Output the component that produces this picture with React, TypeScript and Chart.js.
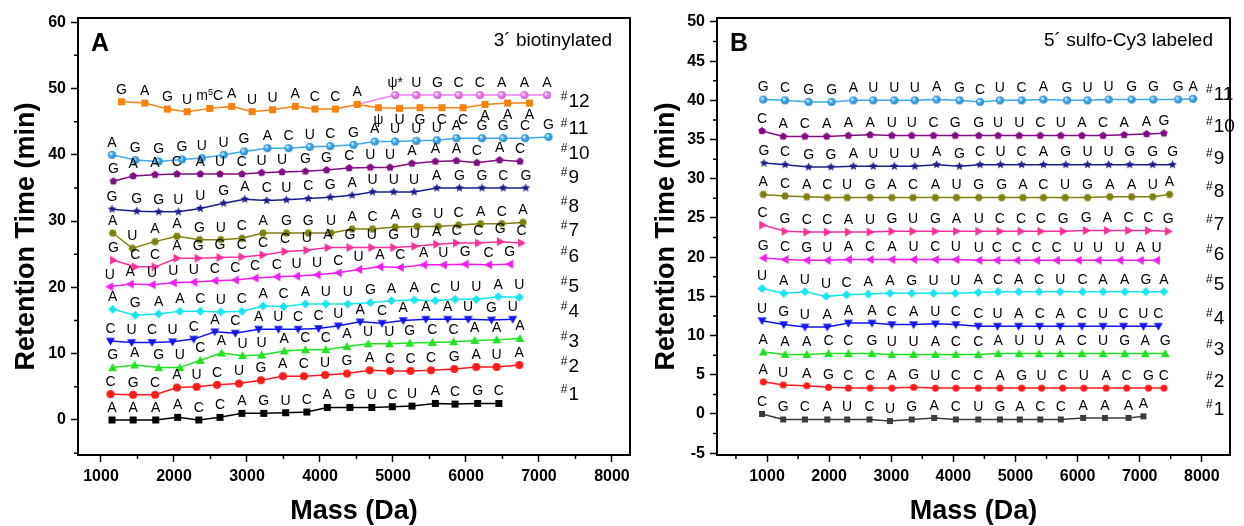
import React, { useEffect, useRef } from 'react';
import { Chart, registerables } from 'chart.js';
Chart.register(...registerables);

const FONT = '"Liberation Sans", Arial, Helvetica, sans-serif';

// ---------- Panel A (3' biotinylated) ----------
const xTicksA = [1000, 2000, 3000, 4000, 5000, 6000, 7000, 8000];
const yTicksA = [0, 10, 20, 30, 40, 50, 60];

const massA1 = [1150, 1440, 1750, 2050, 2340, 2630, 2930, 3230, 3530, 3820, 4100, 4410, 4710, 4990, 5260, 5580, 5850, 6160, 6450];
const rtA1 = [0.0, 0.0, 0.0, 0.4, 0.0, 0.4, 1.0, 1.0, 1.1, 1.2, 1.9, 1.9, 1.9, 2.0, 2.1, 2.5, 2.4, 2.5, 2.5];
const seqA1 = ['A', 'A', 'A', 'A', 'C', 'C', 'A', 'G', 'U', 'C', 'A', 'G', 'U', 'C', 'U', 'A', 'C', 'G', 'C'];

const massA2 = [1130, 1440, 1740, 2040, 2310, 2590, 2890, 3190, 3490, 3780, 4070, 4370, 4680, 4960, 5240, 5520, 5840, 6140, 6420, 6730];
const rtA2 = [3.9, 3.8, 3.8, 4.9, 5.0, 5.3, 5.5, 6.0, 6.6, 6.6, 6.8, 7.0, 7.5, 7.4, 7.4, 7.5, 7.7, 8.0, 8.0, 8.3];
const seqA2 = ['C', 'G', 'C', 'A', 'U', 'C', 'U', 'G', 'A', 'C', 'U', 'G', 'A', 'C', 'C', 'C', 'G', 'A', 'U', 'A'];

const massA3 = [1160, 1460, 1790, 2080, 2360, 2650, 2940, 3200, 3510, 3800, 4080, 4370, 4660, 4950, 5230, 5540, 5830, 6120, 6420, 6740];
const rtA3 = [7.9, 8.3, 7.9, 7.9, 9.0, 10.1, 9.7, 9.8, 10.4, 10.6, 10.6, 11.1, 11.5, 11.5, 11.6, 11.7, 11.8, 12.0, 12.1, 12.3];
const seqA3 = ['G', 'A', 'G', 'U', 'C', 'A', 'U', 'U', 'A', 'C', 'C', 'A', 'U', 'U', 'G', 'C', 'C', 'A', 'A', 'A'];

const massA4 = [1130, 1420, 1700, 1980, 2270, 2560, 2840, 3160, 3430, 3700, 3980, 4250, 4550, 4850, 5140, 5450, 5750, 6030, 6350, 6640];
const rtA4 = [11.9, 11.7, 11.7, 11.8, 12.2, 13.3, 13.1, 13.7, 13.7, 13.7, 13.8, 14.2, 14.8, 14.6, 15.0, 15.2, 15.2, 15.2, 15.1, 15.2];
const seqA4 = ['C', 'U', 'C', 'U', 'C', 'A', 'C', 'A', 'U', 'C', 'C', 'U', 'A', 'C', 'A', 'A', 'A', 'U', 'G', 'U'];

const massA5 = [1160, 1470, 1790, 2080, 2360, 2640, 2930, 3220, 3500, 3800, 4080, 4380, 4690, 4980, 5290, 5580, 5850, 6140, 6440, 6730];
const rtA5 = [16.7, 15.8, 16.0, 16.4, 16.4, 16.3, 16.4, 17.2, 17.1, 17.5, 17.5, 17.5, 17.7, 18.0, 18.1, 18.0, 18.2, 18.2, 18.6, 18.5];
const seqA5 = ['A', 'G', 'A', 'A', 'C', 'U', 'C', 'A', 'C', 'A', 'U', 'U', 'G', 'A', 'A', 'C', 'U', 'U', 'A', 'U'];

const massA6 = [1120, 1400, 1700, 1990, 2270, 2560, 2840, 3110, 3410, 3680, 3960, 4250, 4530, 4820, 5100, 5420, 5690, 5990, 6310, 6600];
const rtA6 = [20.1, 20.5, 20.4, 20.7, 20.8, 21.0, 21.1, 21.4, 21.6, 21.7, 21.9, 22.2, 22.7, 23.1, 23.0, 23.4, 23.4, 23.5, 23.4, 23.5];
const seqA6 = ['U', 'A', 'U', 'U', 'U', 'C', 'C', 'C', 'C', 'U', 'U', 'C', 'U', 'A', 'C', 'A', 'U', 'G', 'C', 'G'];

const massA7 = [1170, 1470, 1740, 2040, 2330, 2630, 2930, 3220, 3520, 3820, 4110, 4410, 4710, 5010, 5300, 5600, 5870, 6170, 6470, 6760];
const rtA7 = [24.1, 23.1, 23.1, 24.4, 24.4, 24.5, 24.6, 24.9, 25.4, 25.6, 26.0, 26.0, 26.0, 26.0, 26.2, 26.5, 26.7, 26.7, 26.9, 26.7];
const seqA7 = ['G', 'C', 'C', 'A', 'G', 'G', 'C', 'C', 'C', 'U', 'A', 'G', 'U', 'G', 'U', 'A', 'C', 'C', 'G', 'C'];

const massA8 = [1160, 1430, 1740, 2040, 2350, 2640, 2930, 3220, 3540, 3840, 4150, 4440, 4720, 5030, 5330, 5620, 5900, 6200, 6490, 6780];
const rtA8 = [28.2, 25.9, 26.9, 27.7, 27.2, 27.2, 27.4, 28.2, 28.2, 28.2, 28.2, 28.8, 28.8, 29.1, 29.2, 29.2, 29.4, 29.6, 29.6, 29.8];
const seqA8 = ['A', 'U', 'A', 'A', 'G', 'U', 'C', 'A', 'G', 'G', 'U', 'A', 'C', 'A', 'G', 'U', 'C', 'A', 'C', 'A'];

const massA9 = [1150, 1490, 1790, 2060, 2360, 2680, 2970, 3270, 3540, 3840, 4140, 4440, 4720, 5010, 5290, 5600, 5910, 6220, 6510, 6820];
const rtA9 = [31.8, 31.5, 31.4, 31.4, 31.9, 32.7, 33.3, 33.1, 33.2, 33.4, 33.6, 33.9, 34.4, 34.4, 34.4, 35.0, 35.0, 35.0, 35.0, 35.0];
const seqA9 = ['G', 'G', 'G', 'U', 'U', 'G', 'A', 'C', 'U', 'C', 'G', 'A', 'U', 'U', 'U', 'A', 'G', 'G', 'C', 'G'];

const massA10 = [1170, 1440, 1740, 2040, 2360, 2630, 2930, 3200, 3480, 3800, 4090, 4400, 4690, 4960, 5260, 5580, 5870, 6150, 6460, 6740];
const rtA10 = [36.0, 36.8, 37.0, 37.1, 37.1, 37.1, 37.1, 37.3, 37.4, 37.5, 37.7, 38.0, 38.1, 38.1, 38.7, 39.0, 39.1, 38.8, 39.2, 39.0];
const seqA10 = ['G', 'A', 'A', 'C', 'A', 'U', 'C', 'U', 'U', 'G', 'G', 'C', 'U', 'U', 'A', 'A', 'A', 'C', 'A', 'C'];

const massA11 = [1150, 1470, 1790, 2110, 2380, 2680, 2960, 3280, 3570, 3860, 4140, 4460, 4750, 5030, 5320, 5600, 5870, 6220, 6510, 6810, 7130];
const rtA11 = [40.0, 39.2, 39.0, 39.3, 39.5, 40.0, 40.5, 41.0, 41.0, 41.2, 41.3, 41.5, 42.0, 42.0, 42.1, 42.2, 42.5, 42.5, 42.5, 42.5, 42.7];
const seqA11 = ['A', 'G', 'G', 'G', 'U', 'U', 'G', 'A', 'C', 'U', 'C', 'G', 'A', 'U', 'U', 'U', 'A', 'G', 'G', 'C', 'G'];

const massA12 = [1280, 1600, 1910, 2180, 2490, 2790, 3070, 3350, 3660, 3930, 4210, 4510, 4800, 5090, 5370, 5670, 5960, 6260, 6570, 6870];
const rtA12 = [48.0, 47.8, 46.9, 46.5, 47.0, 47.3, 46.5, 46.8, 47.3, 46.9, 46.9, 47.6, 47.1, 47.0, 47.1, 47.1, 47.1, 47.6, 47.8, 47.8];
const seqA12 = ['G', 'A', 'G', 'U', 'm⁵C', 'A', 'U', 'U', 'A', 'C', 'C', 'A', 'ψ', 'U', 'G', 'C', 'C', 'A', 'A', 'A'];

const massA12b = [4510, 5030, 5320, 5610, 5900, 6190, 6490, 6800, 7110];
const rtA12b = [47.6, 49.0, 49.0, 49.0, 49.0, 49.0, 49.0, 49.0, 49.0];
const seqA12b = ['', 'ψ*', 'U', 'G', 'C', 'C', 'A', 'A', 'A'];

const rowNamesA = ['1', '2', '3', '4', '5', '6', '7', '8', '9', '10', '11', '12'];
const rowYA = [3.8, 8.0, 11.8, 16.3, 20.1, 24.6, 28.5, 32.1, 36.6, 40.1, 43.9, 48.0];

// ---------- Panel B (5' sulfo-Cy3 labeled) ----------
const xTicksB = [1000, 2000, 3000, 4000, 5000, 6000, 7000, 8000];
const yTicksB = [-5, 0, 5, 10, 15, 20, 25, 30, 35, 40, 45, 50];

const massB1 = [920, 1260, 1610, 1970, 2290, 2650, 2980, 3330, 3690, 4040, 4400, 4750, 5070, 5400, 5730, 6090, 6440, 6820, 7060];
const rtB1 = [0.0, -0.7, -0.7, -0.7, -0.7, -0.7, -0.9, -0.7, -0.5, -0.7, -0.7, -0.7, -0.7, -0.7, -0.7, -0.5, -0.5, -0.5, -0.3];
const seqB1 = ['C', 'G', 'C', 'A', 'U', 'C', 'U', 'G', 'A', 'C', 'U', 'G', 'A', 'C', 'C', 'A', 'A', 'A', 'A'];

const massB2 = [940, 1260, 1640, 1990, 2310, 2660, 3010, 3360, 3710, 4040, 4400, 4750, 5100, 5420, 5760, 6100, 6460, 6790, 7140, 7390];
const rtB2 = [4.1, 3.7, 3.6, 3.4, 3.3, 3.3, 3.3, 3.4, 3.3, 3.3, 3.3, 3.3, 3.3, 3.3, 3.3, 3.3, 3.3, 3.3, 3.3, 3.3];
const seqB2 = ['A', 'U', 'A', 'G', 'C', 'C', 'A', 'G', 'U', 'C', 'C', 'A', 'G', 'U', 'C', 'U', 'A', 'C', 'G', 'C'];

const massB3 = [940, 1290, 1640, 1990, 2310, 2690, 3010, 3360, 3710, 4040, 4400, 4720, 5060, 5380, 5720, 6070, 6410, 6760, 7090, 7410];
const rtB3 = [7.9, 7.6, 7.6, 7.7, 7.7, 7.7, 7.6, 7.6, 7.6, 7.6, 7.6, 7.7, 7.7, 7.7, 7.7, 7.7, 7.7, 7.7, 7.7, 7.7];
const seqB3 = ['A', 'A', 'A', 'C', 'C', 'G', 'U', 'U', 'A', 'C', 'C', 'A', 'U', 'U', 'A', 'C', 'U', 'G', 'A', 'G'];

const massB4 = [920, 1270, 1610, 1970, 2310, 2690, 3010, 3360, 3710, 4040, 4400, 4710, 5050, 5390, 5720, 6070, 6410, 6740, 7060, 7300];
const rtB4 = [11.9, 11.4, 11.1, 11.1, 11.6, 11.6, 11.4, 11.4, 11.5, 11.4, 11.2, 11.2, 11.2, 11.2, 11.2, 11.2, 11.2, 11.2, 11.2, 11.2];
const seqB4 = ['U', 'G', 'U', 'A', 'A', 'A', 'C', 'A', 'U', 'C', 'C', 'U', 'A', 'C', 'A', 'C', 'U', 'C', 'U', 'C'];

const massB5 = [920, 1270, 1610, 1950, 2280, 2630, 2980, 3330, 3680, 4030, 4400, 4720, 5050, 5380, 5720, 6080, 6410, 6760, 7100, 7390];
const rtB5 = [16.0, 15.4, 15.6, 15.0, 15.2, 15.3, 15.4, 15.4, 15.4, 15.4, 15.5, 15.6, 15.6, 15.6, 15.6, 15.6, 15.6, 15.6, 15.6, 15.6];
const seqB5 = ['U', 'A', 'U', 'U', 'C', 'A', 'A', 'G', 'U', 'U', 'A', 'C', 'A', 'C', 'U', 'C', 'A', 'A', 'G', 'A'];

const massB6 = [940, 1290, 1640, 1970, 2310, 2660, 3010, 3360, 3710, 4040, 4410, 4700, 5020, 5340, 5660, 6010, 6330, 6680, 7010, 7270];
const rtB6 = [19.9, 19.7, 19.6, 19.6, 19.7, 19.7, 19.7, 19.7, 19.7, 19.7, 19.6, 19.6, 19.6, 19.6, 19.6, 19.6, 19.6, 19.6, 19.6, 19.6];
const seqB6 = ['G', 'C', 'G', 'U', 'A', 'C', 'A', 'U', 'C', 'U', 'U', 'C', 'C', 'C', 'C', 'U', 'U', 'U', 'A', 'U'];

const massB7 = [930, 1290, 1640, 1970, 2310, 2660, 3010, 3350, 3710, 4050, 4410, 4750, 5090, 5410, 5770, 6140, 6480, 6820, 7140, 7460];
const rtB7 = [24.1, 23.3, 23.2, 23.2, 23.2, 23.2, 23.3, 23.3, 23.3, 23.3, 23.3, 23.3, 23.3, 23.3, 23.3, 23.4, 23.4, 23.4, 23.4, 23.3];
const seqB7 = ['C', 'G', 'C', 'C', 'A', 'U', 'G', 'U', 'G', 'A', 'U', 'C', 'C', 'C', 'G', 'G', 'A', 'C', 'C', 'G'];

const massB8 = [940, 1290, 1640, 1970, 2290, 2660, 3010, 3350, 3710, 4050, 4410, 4780, 5120, 5450, 5800, 6160, 6520, 6870, 7210, 7480];
const rtB8 = [28.0, 27.8, 27.7, 27.6, 27.6, 27.6, 27.6, 27.6, 27.6, 27.6, 27.6, 27.6, 27.6, 27.6, 27.6, 27.6, 27.7, 27.7, 27.7, 28.0];
const seqB8 = ['A', 'C', 'A', 'C', 'U', 'G', 'A', 'C', 'A', 'U', 'G', 'G', 'A', 'C', 'U', 'G', 'A', 'A', 'U', 'A'];

const massB9 = [950, 1290, 1670, 2030, 2390, 2710, 3050, 3380, 3730, 4100, 4430, 4760, 5100, 5450, 5810, 6160, 6500, 6840, 7210, 7530];
const rtB9 = [32.0, 31.8, 31.5, 31.5, 31.6, 31.6, 31.6, 31.6, 31.8, 31.6, 31.8, 31.8, 31.8, 31.8, 31.8, 31.8, 31.8, 31.8, 31.8, 31.8];
const seqB9 = ['G', 'C', 'G', 'G', 'A', 'U', 'U', 'U', 'A', 'G', 'C', 'U', 'C', 'A', 'G', 'U', 'U', 'G', 'G', 'G'];

const massB10 = [920, 1260, 1610, 1960, 2310, 2660, 3010, 3330, 3680, 4030, 4410, 4720, 5060, 5400, 5730, 6070, 6410, 6750, 7110, 7390];
const rtB10 = [36.1, 35.4, 35.4, 35.4, 35.5, 35.6, 35.5, 35.5, 35.5, 35.5, 35.5, 35.5, 35.5, 35.5, 35.5, 35.5, 35.5, 35.6, 35.7, 35.8];
const seqB10 = ['C', 'A', 'C', 'A', 'A', 'A', 'U', 'U', 'C', 'G', 'G', 'U', 'U', 'C', 'U', 'A', 'C', 'A', 'A', 'G'];

const massB11 = [940, 1290, 1670, 2040, 2390, 2710, 3050, 3380, 3730, 4100, 4430, 4750, 5100, 5450, 5830, 6160, 6500, 6870, 7220, 7620, 7860];
const rtB11 = [40.1, 40.0, 39.8, 39.8, 40.0, 40.0, 40.0, 40.0, 40.1, 40.0, 39.8, 40.0, 40.0, 40.1, 40.0, 40.0, 40.1, 40.1, 40.1, 40.1, 40.2];
const seqB11 = ['G', 'C', 'G', 'G', 'A', 'U', 'U', 'U', 'A', 'G', 'C', 'U', 'C', 'A', 'G', 'U', 'U', 'G', 'G', 'G', 'A'];

const rowNamesB = ['1', '2', '3', '4', '5', '6', '7', '8', '9', '10', '11'];
const rowYB = [0.5, 4.1, 8.2, 12.2, 16.5, 20.3, 24.1, 28.4, 32.6, 36.6, 40.7];

// ---------- drawing helpers ----------
function shade(hex: string, f: number) {
  const n = parseInt(hex.slice(1), 16);
  const r = Math.round(((n >> 16) & 255) * f), g = Math.round(((n >> 8) & 255) * f), b = Math.round((n & 255) * f);
  return `rgb(${r},${g},${b})`;
}

function marker(shape: string, color: string, size: number): HTMLCanvasElement {
  const S = Math.ceil(size) + 2;
  const c = document.createElement('canvas');
  c.width = S; c.height = S;
  const g = c.getContext('2d')!;
  const cx = S / 2, cy = S / 2, r = size / 2;
  g.beginPath();
  const pts = (arr: number[][]) => { arr.forEach((p, i) => (i ? g.lineTo(cx + p[0], cy + p[1]) : g.moveTo(cx + p[0], cy + p[1]))); g.closePath(); };
  const poly = (n: number, start: number) => {
    const a: number[][] = [];
    for (let i = 0; i < n; i++) { const t = start + (i * 2 * Math.PI) / n; a.push([r * Math.cos(t), r * Math.sin(t)]); }
    pts(a);
  };
  switch (shape) {
    case 'square': g.rect(cx - r, cy - r, 2 * r, 2 * r); break;
    case 'circle': case 'ball': g.arc(cx, cy, r, 0, Math.PI * 2); break;
    case 'triUp': pts([[0, -r], [r, r * 0.75], [-r, r * 0.75]]); break;
    case 'triDown': pts([[0, r], [r, -r * 0.75], [-r, -r * 0.75]]); break;
    case 'triLeft': pts([[-r, 0], [r * 0.75, -r], [r * 0.75, r]]); break;
    case 'triRight': pts([[r, 0], [-r * 0.75, -r], [-r * 0.75, r]]); break;
    case 'diamond': pts([[0, -r], [r, 0], [0, r], [-r, 0]]); break;
    case 'pentagon': poly(5, -Math.PI / 2); break;
    case 'hexagon': poly(6, 0); break;
    case 'star': {
      const a: number[][] = [];
      for (let i = 0; i < 10; i++) { const rr = i % 2 === 0 ? r : r * 0.45; const t = -Math.PI / 2 + (i * Math.PI) / 5; a.push([rr * Math.cos(t), rr * Math.sin(t)]); }
      pts(a); break;
    }
  }
  if (shape === 'ball') {
    const grd = g.createRadialGradient(cx - r * 0.35, cy - r * 0.35, 0.3, cx, cy, r);
    grd.addColorStop(0, '#ffffff');
    grd.addColorStop(0.45, color);
    grd.addColorStop(1, shade(color, 0.8));
    g.fillStyle = grd;
  } else {
    g.fillStyle = color;
  }
  g.fill();
  return c;
}

const SUP = '⁰¹²³⁴⁵⁶⁷⁸⁹';
function drawRich(ctx: CanvasRenderingContext2D, text: string, x: number, y: number, size: number) {
  const runs: { t: string; s: boolean }[] = [];
  for (const ch of Array.from(text)) {
    const s = SUP.includes(ch);
    const t = s ? String(SUP.indexOf(ch)) : ch;
    if (runs.length && runs[runs.length - 1].s === s) runs[runs.length - 1].t += t;
    else runs.push({ t, s });
  }
  const fN = `${size}px ${FONT}`, fS = `${Math.round(size * 0.62)}px ${FONT}`;
  let w = 0;
  runs.forEach((r) => { ctx.font = r.s ? fS : fN; w += ctx.measureText(r.t).width; });
  let cx = x - w / 2;
  ctx.textAlign = 'left';
  ctx.textBaseline = 'middle';
  runs.forEach((r) => {
    ctx.font = r.s ? fS : fN;
    ctx.fillText(r.t, cx, r.s ? y - size * 0.3 : y);
    cx += ctx.measureText(r.t).width;
  });
}

type Series = { mass: number[]; rt: number[]; seq: string[]; color: string; shape: string; size: number; hideFirst?: boolean; belowFrom?: number };

type PanelSpec = {
  width: number; yAxisW: number; padRight: number;
  xMin: number; xMax: number; yMin: number; yMax: number;
  xTicks: number[]; yTicks: number[]; xMinor: number[]; yMinor: number[];
  series: Series[];
  rowNames: string[]; rowY: number[]; rowMass: number;
  letter: string; note: string; noteRight: number;
};

function buildConfig(p: PanelSpec): any {
  const datasets = p.series.map((s) => ({
    data: s.mass.map((m, i) => ({ x: m, y: s.rt[i] })),
    showLine: true,
    borderColor: s.color,
    backgroundColor: s.color,
    borderWidth: 1.5,
    tension: 0,
    pointStyle: marker(s.shape, s.color, s.size),
    pointRadius: s.mass.map((_, i) => (s.hideFirst && i === 0 ? 0 : 4)),
    pointHoverRadius: 4,
    clip: false,
    letters: s.seq,
    belowFrom: s.belowFrom ?? null,
  }));

  const tickFont = { family: FONT, size: 16, weight: 'bold' as const };

  const decor = {
    id: 'decor',
    afterDraw(chart: any) {
      const ctx: CanvasRenderingContext2D = chart.ctx;
      const ca = chart.chartArea;
      const xs = chart.scales.x, ys = chart.scales.y;
      ctx.save();
      ctx.strokeStyle = '#000';
      ctx.lineWidth = 2;
      ctx.strokeRect(ca.left, ca.top, ca.right - ca.left, ca.bottom - ca.top);
      ctx.lineWidth = 1.5;
      ctx.beginPath();
      p.xMinor.forEach((v) => { const px = xs.getPixelForValue(v); ctx.moveTo(px, ca.bottom); ctx.lineTo(px, ca.bottom + 4); });
      p.yMinor.forEach((v) => { const py = ys.getPixelForValue(v); ctx.moveTo(ca.left, py); ctx.lineTo(ca.left - 4, py); });
      ctx.stroke();
      ctx.fillStyle = '#000';
      chart.data.datasets.forEach((ds: any, i: number) => {
        const meta = chart.getDatasetMeta(i);
        meta.data.forEach((pt: any, j: number) => {
          const t = ds.letters?.[j];
          if (!t) return;
          const below = ds.belowFrom != null && j >= ds.belowFrom;
          drawRich(ctx, t, pt.x, below ? pt.y + 12 : pt.y - 12, 14);
        });
      });
      p.rowNames.forEach((n, i) => {
        const x = xs.getPixelForValue(p.rowMass);
        const y = ys.getPixelForValue(p.rowY[i]);
        ctx.textAlign = 'left';
        ctx.textBaseline = 'middle';
        ctx.font = `12px ${FONT}`;
        ctx.fillText('#', x, y - 5);
        const w = ctx.measureText('#').width;
        ctx.font = `19px ${FONT}`;
        ctx.fillText(n, x + w + 1, y);
      });
      ctx.textBaseline = 'middle';
      ctx.textAlign = 'left';
      ctx.font = `bold 25px ${FONT}`;
      ctx.fillText(p.letter, ca.left + 13, ca.top + 26);
      ctx.textAlign = 'right';
      ctx.font = `19px ${FONT}`;
      ctx.fillText(p.note, p.noteRight, ca.top + 23);
      ctx.textAlign = 'center';
      ctx.font = `bold 27px ${FONT}`;
      ctx.fillText('Mass (Da)', (ca.left + ca.right) / 2, 512);
      ctx.translate(27, (ca.top + ca.bottom) / 2);
      ctx.rotate(-Math.PI / 2);
      ctx.fillText('Retention Time (min)', 0, 0);
      ctx.restore();
    },
  };

  return {
    type: 'scatter',
    data: { datasets },
    options: {
      animation: false,
      responsive: false,
      devicePixelRatio: 1,
      events: [],
      layout: { padding: { top: 18, right: p.padRight, left: 0, bottom: 0 } },
      plugins: { legend: { display: false }, tooltip: { enabled: false } },
      scales: {
        x: {
          type: 'linear', min: p.xMin, max: p.xMax,
          afterBuildTicks: (s: any) => { s.ticks = p.xTicks.map((v) => ({ value: v })); },
          afterFit: (s: any) => { s.height = 71; },
          ticks: { color: '#000', font: tickFont, padding: 5, maxRotation: 0, autoSkip: false, callback: (v: any) => String(v) },
          grid: { drawOnChartArea: false, drawTicks: true, tickLength: 7, tickWidth: 1.5, tickColor: '#000' },
          border: { display: false },
        },
        y: {
          type: 'linear', min: p.yMin, max: p.yMax,
          afterBuildTicks: (s: any) => { s.ticks = p.yTicks.map((v) => ({ value: v })); },
          afterFit: (s: any) => { s.width = p.yAxisW; },
          ticks: { color: '#000', font: tickFont, padding: 5, autoSkip: false, callback: (v: any) => String(v) },
          grid: { drawOnChartArea: false, drawTicks: true, tickLength: 7, tickWidth: 1.5, tickColor: '#000' },
          border: { display: false },
        },
      },
    },
    plugins: [decor],
  };
}

const panelA: PanelSpec = {
  width: 640, yAxisW: 78, padRight: 10,
  xMin: 685, xMax: 8247, yMin: -5.28, yMax: 60.63,
  xTicks: xTicksA, yTicks: yTicksA,
  xMinor: [1500, 2500, 3500, 4500, 5500, 6500, 7500],
  yMinor: [-5, 5, 15, 25, 35, 45, 55],
  series: [
    { mass: massA1, rt: rtA1, seq: seqA1, color: '#000000', shape: 'square', size: 7 },
    { mass: massA2, rt: rtA2, seq: seqA2, color: '#ff1a1a', shape: 'circle', size: 8 },
    { mass: massA3, rt: rtA3, seq: seqA3, color: '#22e022', shape: 'triUp', size: 9 },
    { mass: massA4, rt: rtA4, seq: seqA4, color: '#1414f0', shape: 'triDown', size: 9 },
    { mass: massA5, rt: rtA5, seq: seqA5, color: '#18e4ec', shape: 'diamond', size: 9 },
    { mass: massA6, rt: rtA6, seq: seqA6, color: '#f01cf0', shape: 'triLeft', size: 9 },
    { mass: massA7, rt: rtA7, seq: seqA7, color: '#f5309a', shape: 'triRight', size: 9 },
    { mass: massA8, rt: rtA8, seq: seqA8, color: '#808010', shape: 'hexagon', size: 8 },
    { mass: massA9, rt: rtA9, seq: seqA9, color: '#1c1c8c', shape: 'star', size: 9 },
    { mass: massA10, rt: rtA10, seq: seqA10, color: '#800e80', shape: 'pentagon', size: 8 },
    { mass: massA11, rt: rtA11, seq: seqA11, color: '#3aaaf0', shape: 'ball', size: 8 },
    { mass: massA12, rt: rtA12, seq: seqA12, color: '#f5820f', shape: 'square', size: 7, belowFrom: 12 },
    { mass: massA12b, rt: rtA12b, seq: seqA12b, color: '#f07cf0', shape: 'ball', size: 8, hideFirst: true },
  ],
  rowNames: rowNamesA, rowY: rowYA, rowMass: 7300,
  letter: 'A', note: '3´ biotinylated', noteRight: 612,
};

const panelB: PanelSpec = {
  width: 604, yAxisW: 77, padRight: 14,
  xMin: 195, xMax: 8454, yMin: -5.23, yMax: 50.5,
  xTicks: xTicksB, yTicks: yTicksB,
  xMinor: [500, 1500, 2500, 3500, 4500, 5500, 6500, 7500],
  yMinor: [-2.5, 2.5, 7.5, 12.5, 17.5, 22.5, 27.5, 32.5, 37.5, 42.5, 47.5],
  series: [
    { mass: massB1, rt: rtB1, seq: seqB1, color: '#3c3c3c', shape: 'square', size: 6 },
    { mass: massB2, rt: rtB2, seq: seqB2, color: '#ff1a1a', shape: 'circle', size: 7 },
    { mass: massB3, rt: rtB3, seq: seqB3, color: '#22e022', shape: 'triUp', size: 9 },
    { mass: massB4, rt: rtB4, seq: seqB4, color: '#1414f0', shape: 'triDown', size: 9 },
    { mass: massB5, rt: rtB5, seq: seqB5, color: '#18e4ec', shape: 'diamond', size: 9 },
    { mass: massB6, rt: rtB6, seq: seqB6, color: '#f01cf0', shape: 'triLeft', size: 9 },
    { mass: massB7, rt: rtB7, seq: seqB7, color: '#f5309a', shape: 'triRight', size: 9 },
    { mass: massB8, rt: rtB8, seq: seqB8, color: '#808010', shape: 'hexagon', size: 8 },
    { mass: massB9, rt: rtB9, seq: seqB9, color: '#1c1c8c', shape: 'star', size: 9 },
    { mass: massB10, rt: rtB10, seq: seqB10, color: '#800e80', shape: 'pentagon', size: 8 },
    { mass: massB11, rt: rtB11, seq: seqB11, color: '#3aaaf0', shape: 'ball', size: 8 },
  ],
  rowNames: rowNamesB, rowY: rowYB, rowMass: 8068,
  letter: 'B', note: '5´ sulfo-Cy3 labeled', noteRight: 573,
};

function Panel({ spec, left }: { spec: PanelSpec; left: number }) {
  const ref = useRef<HTMLCanvasElement>(null);
  useEffect(() => {
    const chart = new Chart(ref.current!, buildConfig(spec));
    return () => chart.destroy();
  }, [spec]);
  return (
    <canvas
      ref={ref}
      width={spec.width}
      height={526}
      style={{ position: 'absolute', left, top: 0, width: spec.width, height: 526 }}
    />
  );
}

export default function App() {
  return (
    <div style={{ position: 'absolute', left: 0, top: 0, width: 1244, height: 526, background: '#fff' }}>
      <Panel spec={panelA} left={0} />
      <Panel spec={panelB} left={640} />
    </div>
  );
}
